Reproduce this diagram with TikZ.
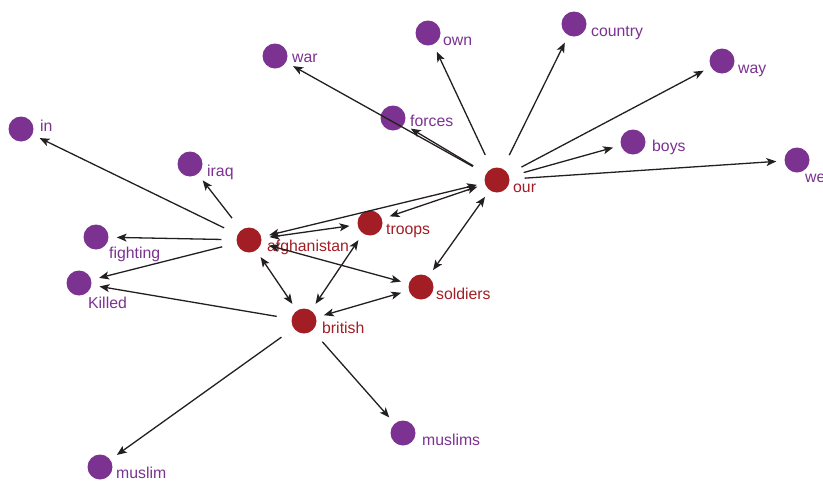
\documentclass[tikz,border=0pt]{standalone}
\usepackage{fontspec}
\setmainfont{Liberation Sans}
\usetikzlibrary{arrows.meta}
\definecolor{nred}{HTML}{A31D24}
\definecolor{npur}{HTML}{7B3290}
\definecolor{edgec}{HTML}{231F20}
\begin{document}
\begin{tikzpicture}[x=1pt,y=-1pt,
  rnode/.style={circle,fill=nred,minimum size=25pt,inner sep=0pt},
  pnode/.style={circle,fill=npur,minimum size=25pt,inner sep=0pt},
  lab/.style={anchor=base west,inner sep=0pt,font=\fontsize{15.8}{18}\selectfont},
  rlab/.style={lab,text=nred},
  plab/.style={lab,text=npur},
  tip/.tip={Stealth[length=10pt,width=8pt,inset=2.5pt]},
  link/.style={draw=edgec,line width=1.3pt,-tip,shorten <=15pt,shorten >=8pt},
  blink/.style={draw=edgec,line width=1.3pt,tip-tip,shorten <=8pt,shorten >=8pt}]
\useasboundingbox (0,0) rectangle (823,480);
% red nodes
\node[rnode] (our) at (497,180) {};
\node[rnode] (afg) at (249,240) {};
\node[rnode] (troops) at (370,223) {};
\node[rnode] (soldiers) at (421,287) {};
\node[rnode] (british) at (304,321) {};
% purple nodes
\node[pnode] (own) at (428,33) {};
\node[pnode] (country) at (574,24) {};
\node[pnode] (way) at (722,61) {};
\node[pnode] (forces) at (393,118) {};
\node[pnode] (boys) at (633,142) {};
\node[pnode] (we) at (797,160) {};
\node[pnode] (war) at (275,56) {};
\node[pnode] (in) at (21,129) {};
\node[pnode] (iraq) at (190,164) {};
\node[pnode] (fighting) at (96,237) {};
\node[pnode] (killed) at (79,283) {};
\node[pnode] (muslim) at (100,467) {};
\node[pnode] (muslims) at (403,433) {};
% labels
\node[rlab] (our-l) at (513,192) {our};
\node[rlab] (afg-l) at (267,251.5) {afghanistan};
\node[rlab] (troops-l) at (386,234) {troops};
\node[rlab] (soldiers-l) at (436,299) {soldiers};
\node[rlab] (british-l) at (322,333) {british};
\node[plab] (own-l) at (443,45) {own};
\node[plab] (country-l) at (591,36.5) {country};
\node[plab] (way-l) at (738,73.5) {way};
\node[plab] (forces-l) at (410,126) {forces};
\node[plab] (boys-l) at (652,151.5) {boys};
\node[plab] (we-l) at (805,182.5) {we};
\node[plab] (war-l) at (292,62.5) {war};
\node[plab] (in-l) at (40,131) {in};
\node[plab] (iraq-l) at (207,176) {iraq};
\node[plab] (fighting-l) at (109,258.5) {fighting};
\node[plab] (killed-l) at (88,308.3) {Killed};
\node[plab] (muslim-l) at (116,478.5) {muslim};
\node[plab] (muslims-l) at (422,445) {muslims};
% directed edges
\draw[link] (our) -- (war);
\draw[link] (our) -- (forces);
\draw[link] (our) -- (own);
\draw[link] (our) -- (country);
\draw[link] (our) -- (way);
\draw[link] (our) -- (boys);
\draw[link] (our) -- (we);
\draw[link] (afg) -- (in);
\draw[link] (afg) -- (iraq);
\draw[link] (afg) -- (fighting);
\draw[link] (afg) -- (killed);
\draw[link] (british) -- (killed);
\draw[link] (british) -- (muslim);
\draw[link] (british) -- (muslims);
% bidirectional edges
\draw[blink] (afg) -- (our);
\draw[blink] (afg) -- (troops);
\draw[blink] (troops) -- (our);
\draw[blink] (our) -- (soldiers);
\draw[blink] (afg) -- (soldiers);
\draw[blink] (afg) -- (british);
\draw[blink] (troops) -- (british);
\draw[blink] (british) -- (soldiers);
\end{tikzpicture}
\end{document}
